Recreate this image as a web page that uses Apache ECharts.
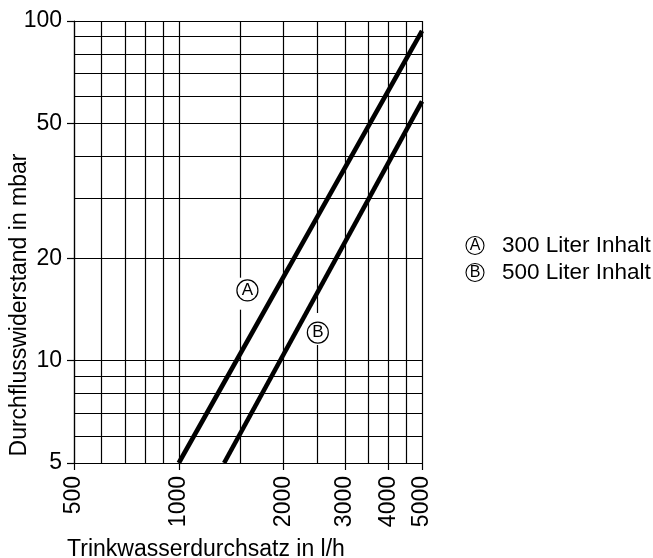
<!DOCTYPE html>
<html>
<head>
<meta charset="utf-8">
<script src="https://cdn.jsdelivr.net/npm/echarts@6/dist/echarts.min.js"></script>
<style>html,body{margin:0;padding:0;background:#fff;}#c{width:653px;height:558px;}</style>
</head>
<body>
<div id="c"></div>
<script>
// Tick/grid values
const xGridValues = [500, 600, 700, 800, 900, 1000, 1500, 2000, 2500, 3000, 3500, 4000, 4500, 5000];
const yGridValues = [5, 6, 7, 8, 9, 10, 20, 30, 40, 50, 60, 70, 80, 90, 100];
const xTickLabels = [500, 1000, 2000, 3000, 4000, 5000];
const yTickLabels = [5, 10, 20, 50, 100];
// Series (flow l/h, resistance mbar)
const seriesNames = ['A', 'B'];
const legendTexts = {A: '300 Liter Inhalt', B: '500 Liter Inhalt'};
const curveA = [[1000, 5], [5000, 93.5]];
const curveB = [[1350, 5], [5000, 58]];
// Circled label anchors
const labelA = [1575, 16.1];
const labelB = [2510, 12.1];

const FONT = 'Liberation Sans';
const FS = 23;
const chart = echarts.init(document.getElementById('c'), null, {renderer: 'canvas'});

const gridLines = [];
xGridValues.forEach(v => gridLines.push({xAxis: v}));
yGridValues.forEach(v => gridLines.push({yAxis: v}));

function circleLabel(coord, text) {
  return {
    coord: coord, symbol: 'circle', symbolSize: 21,
    itemStyle: {color: '#fff', borderColor: '#000', borderWidth: 1.2},
    label: {show: true, position: 'inside', formatter: text, fontSize: 17, color: '#000', fontFamily: FONT}
  };
}
function gap(x, y, h) {
  return {coord: [x, y], symbol: 'rect', symbolSize: [6, h], itemStyle: {color: '#fff', borderWidth: 0}, label: {show: false}};
}

const option = {
  animation: false,
  backgroundColor: '#fff',
  textStyle: {fontFamily: FONT, color: '#000'},
  grid: {left: 74, top: 21, width: 348, height: 442, containLabel: false, outerBoundsMode: 'none'},
  legend: {
    data: seriesNames,
    orient: 'vertical',
    left: 456, top: 229,
    icon: 'none', itemWidth: 0, itemHeight: 0, itemGap: 4,
    selectedMode: false,
    formatter: name => '{c|' + name + '}{t|' + legendTexts[name] + '}',
    textStyle: {
      fontFamily: FONT, color: '#000',
      rich: {
        c: {width: 18, height: 18, lineHeight: 18, align: 'center', verticalAlign: 'middle', borderColor: '#000', borderWidth: 1.1, borderRadius: 9, fontSize: 16, color: '#000', fontFamily: FONT},
        t: {fontSize: 22.5, padding: [0, 0, 0, 18], color: '#000', fontFamily: FONT}
      }
    }
  },
  xAxis: {
    type: 'log', logBase: 10, min: 500, max: 5000,
    name: 'Trinkwasserdurchsatz in l/h', nameLocation: 'middle', nameGap: 75, nameMoveOverlap: false,
    nameTextStyle: {fontSize: FS, color: '#000', fontFamily: FONT, padding: [0, 84, 0, 0]},
    axisLine: {show: true, lineStyle: {color: '#000', width: 1.2}},
    axisTick: {show: true, inside: false, length: 7, lineStyle: {color: '#000', width: 1.2}, customValues: xTickLabels},
    axisLabel: {show: true, rotate: 90, margin: 13, fontSize: FS, color: '#000', fontFamily: FONT, customValues: xTickLabels, formatter: v => String(Math.round(v))},
    splitLine: {show: false}, minorTick: {show: false}, minorSplitLine: {show: false}
  },
  yAxis: {
    type: 'log', logBase: 10, min: 5, max: 100,
    name: 'Durchflusswiderstand in mbar', nameLocation: 'middle', nameGap: 43, nameRotate: 90, nameMoveOverlap: false,
    nameTextStyle: {fontSize: FS, color: '#000', fontFamily: FONT, padding: [0, 126, 0, 0]},
    axisLine: {show: true, lineStyle: {color: '#000', width: 1.2}},
    axisTick: {show: true, inside: false, length: 7, lineStyle: {color: '#000', width: 1.2}, customValues: yTickLabels},
    axisLabel: {show: true, margin: 12, fontSize: FS, color: '#000', fontFamily: FONT, customValues: yTickLabels, formatter: v => String(Math.round(v))},
    splitLine: {show: false}, minorTick: {show: false}, minorSplitLine: {show: false}
  },
  series: [
    {
      name: 'A', type: 'line', data: curveA, showSymbol: false, symbol: 'none', z: 3, silent: true,
      lineStyle: {color: '#000', width: 4.6, cap: 'butt'}, itemStyle: {color: '#000'},
      markLine: {
        z: 1, silent: true, symbol: ['none', 'none'], animation: false,
        label: {show: false}, emphasis: {disabled: true},
        lineStyle: {color: '#000', width: 1.2, type: 'solid'},
        data: gridLines
      },
      markPoint: {
        z: 10, silent: true, animation: false,
        data: [gap(1500, 15.75, 32), circleLabel(labelA, 'A')]
      }
    },
    {
      name: 'B', type: 'line', data: curveB, showSymbol: false, symbol: 'none', z: 3, silent: true,
      lineStyle: {color: '#000', width: 4.6, cap: 'butt'}, itemStyle: {color: '#000'},
      markPoint: {
        z: 10, silent: true, animation: false,
        data: [gap(2500, 12.4, 32), circleLabel(labelB, 'B')]
      }
    }
  ]
};
chart.setOption(option);
</script>
</body>
</html>
